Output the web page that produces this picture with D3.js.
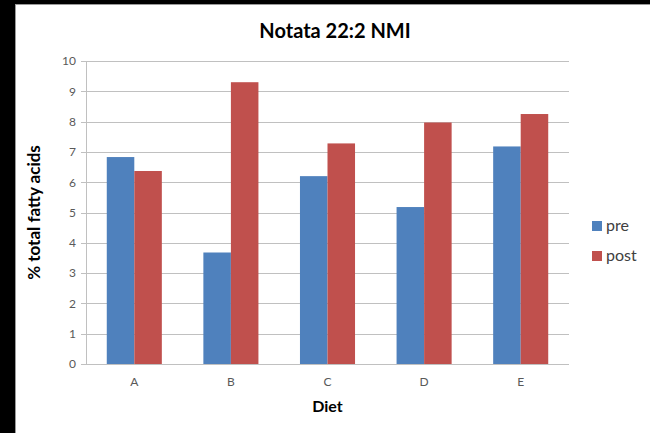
<!DOCTYPE html>
<html>
<head>
<meta charset="utf-8">
<script src="https://cdn.jsdelivr.net/npm/d3@7"></script>
<style>
  html, body { margin: 0; padding: 0; background: #000; }
  svg { display: block; }
</style>
</head>
<body>
<svg id="chart" width="650" height="433"></svg>
<script>
// Diet groups and the two sampling series
const categories = ["A", "B", "C", "D", "E"];
const seriesNames = ["pre", "post"];
const preValues = [6.83, 3.68, 6.2, 5.18, 7.18];
const postValues = [6.37, 9.3, 7.28, 7.97, 8.25];
const yTicks = [0, 1, 2, 3, 4, 5, 6, 7, 8, 9, 10];
const colors = ["#4F81BD", "#C0504D"];

const svg = d3.select("#chart");
const W = 650, H = 433;
const font = "Lato, 'Open Sans', sans-serif";

// chart-area frame
svg.append("rect").attr("x", 0).attr("y", 0).attr("width", W).attr("height", H).attr("fill", "#000");
svg.append("rect").attr("x", 15.5).attr("y", 4.5).attr("width", W - 15).attr("height", H - 4)
  .attr("fill", "#fff").attr("stroke", "#9a9a9a").attr("stroke-width", 1);

const plot = { left: 86, right: 569, top: 61, bottom: 364 };

const x = d3.scaleBand().domain(categories).range([plot.left, plot.right]);
const y = d3.scaleLinear().domain([0, 10]).range([plot.bottom, plot.top]);

// gridlines with short ticks to the left of the axis
const yAxis = d3.axisLeft(y).tickValues(yTicks).tickSize(plot.right - plot.left + 5)
  .tickFormat(d3.format("d")).tickPadding(5);
const gy = svg.append("g").attr("transform", `translate(${plot.right},0)`).call(yAxis);
gy.select(".domain").remove();
gy.selectAll(".tick line").attr("stroke", "#c0c0c0").attr("stroke-width", 1)
  .attr("shape-rendering", "crispEdges");
gy.selectAll(".tick text").attr("fill", "#595959").style("font-family", font).style("font-size", "12px");

// vertical axis line
svg.append("line").attr("x1", plot.left + 0.5).attr("x2", plot.left + 0.5)
  .attr("y1", plot.top).attr("y2", plot.bottom).attr("stroke", "#c0c0c0");

// bars
const rows = categories.map((c, i) => ({ cat: c, vals: [preValues[i], postValues[i]] }));
const inner = 0.285;
rows.forEach(r => {
  const center = x(r.cat) + x.bandwidth() / 2;
  const bw = x.bandwidth() * inner;
  r.vals.forEach((v, j) => {
    svg.append("rect")
      .attr("x", center - bw + j * bw)
      .attr("y", y(v))
      .attr("width", bw)
      .attr("height", y(0) - y(v))
      .attr("fill", colors[j]);
  });
});

// baseline
svg.append("line").attr("x1", plot.left).attr("x2", plot.right)
  .attr("y1", plot.bottom + 0.5).attr("y2", plot.bottom + 0.5).attr("stroke", "#c0c0c0");

// category labels
const xAxis = d3.axisBottom(x).tickSize(0).tickPadding(13);
const gx = svg.append("g").attr("transform", `translate(0,${plot.bottom})`).call(xAxis);
gx.select(".domain").remove();
gx.selectAll(".tick text").attr("fill", "#595959").style("font-family", font).style("font-size", "12px");

// title
svg.append("text").attr("x", 335).attr("y", 38).attr("text-anchor", "middle")
  .style("font-family", font).style("font-weight", "bold").style("font-size", "20px")
  .attr("fill", "#000").text("Notata 22:2 NMI");

// axis titles
svg.append("text").attr("x", (plot.left + plot.right) / 2).attr("y", 412).attr("text-anchor", "middle")
  .style("font-family", font).style("font-weight", "bold").style("font-size", "16px")
  .attr("fill", "#000").text("Diet");
svg.append("text").attr("transform", `translate(40,${(plot.top + plot.bottom) / 2}) rotate(-90)`)
  .attr("text-anchor", "middle")
  .style("font-family", font).style("font-weight", "bold").style("font-size", "17px")
  .attr("fill", "#000").text("% total fatty acids");

// legend
const legend = svg.append("g");
seriesNames.forEach((s, i) => {
  const ly = 221 + i * 30;
  legend.append("rect").attr("x", 592).attr("y", ly).attr("width", 10).attr("height", 10).attr("fill", colors[i]);
  legend.append("text").attr("x", 606).attr("y", ly + 10)
    .style("font-family", font).style("font-size", "16px").attr("fill", "#404040").text(s);
});
</script>
</body>
</html>
